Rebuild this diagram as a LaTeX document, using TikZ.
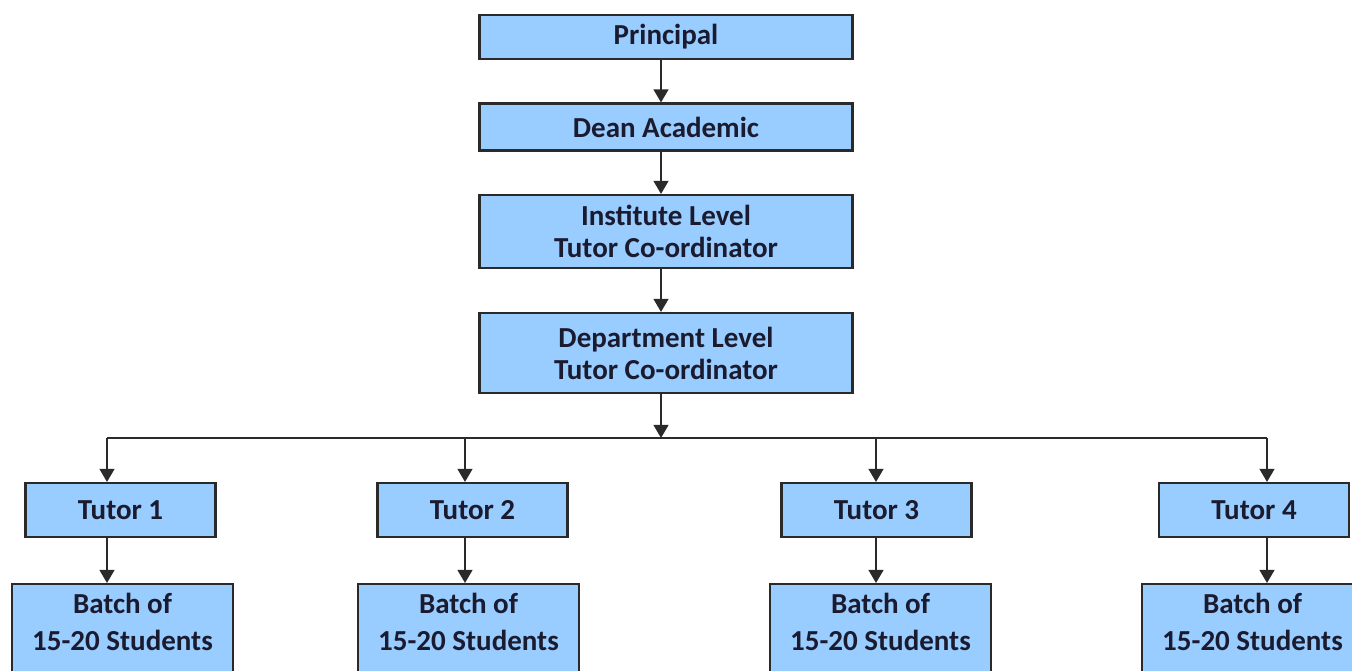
\documentclass[tikz,border=0pt]{standalone}
\usepackage{fontspec}
\setmainfont{Carlito}
\usetikzlibrary{arrows.meta}

\definecolor{boxblue}{HTML}{99CCFF}
\definecolor{boxline}{HTML}{2A2A2A}
\definecolor{boxtext}{HTML}{1B1B30}

\tikzset{
  box/.style={draw=boxline, line width=1.2pt, fill=boxblue, text=boxtext,
    font=\fontsize{16.5}{18.2}\selectfont\bfseries, align=center, inner sep=0pt},
  topbox/.style={box, minimum width=7.46cm},
  tutorbox/.style={box, minimum width=3.8cm, minimum height=1.08cm},
  batchbox/.style={box, anchor=north, minimum width=4.42cm,
    font=\fontsize{16.5}{21}\selectfont\bfseries, text height=38pt, text depth=60pt},
  arr/.style={draw=boxline, line width=1.1pt, -{Triangle[length=7.5pt,width=8.5pt]}},
}

\begin{document}
\begin{tikzpicture}[x=0.02cm,y=-0.02cm]
  \useasboundingbox (0,0) rectangle (1352,670);
  \clip (0,0) rectangle (1352,670);

  % chain of co-ordinators
  \node[topbox, minimum height=0.88cm] (principal) at (666,37) {Principal};
  \node[topbox, minimum height=0.94cm] (dean) at (666,127) {Dean Academic};
  \node[topbox, minimum height=1.46cm] (inst) at (666,231.5) {Institute Level\\Tutor Co-ordinator};
  \node[topbox, minimum height=1.6cm] (dept) at (666,353) {Department Level\\Tutor Co-ordinator};

  % tutors
  \node[tutorbox] (t1) at (120.5,510) {Tutor 1};
  \node[tutorbox] (t2) at (472.5,510) {Tutor 2};
  \node[tutorbox] (t3) at (876.5,510) {Tutor 3};
  \node[tutorbox] (t4) at (1254,510) {Tutor 4};

  % batches
  \node[batchbox] (b1) at (122.5,583) {Batch of\\15-20 Students};
  \node[batchbox] (b2) at (468.5,583) {Batch of\\15-20 Students};
  \node[batchbox] (b3) at (880.5,583) {Batch of\\15-20 Students};
  \node[batchbox] (b4) at (1252.5,583) {Batch of\\15-20 Students};

  % bus
  \coordinate (spine) at (661,438);
  \coordinate (d1) at (107,438);
  \coordinate (d2) at (465,438);
  \coordinate (d3) at (876,438);
  \coordinate (d4) at (1267,438);

  \draw[arr] (principal.south -| spine) -- (dean.north -| spine);
  \draw[arr] (dean.south -| spine) -- (inst.north -| spine);
  \draw[arr] (inst.south -| spine) -- (dept.north -| spine);
  \draw[arr] (dept.south -| spine) -- (spine);
  \draw[draw=boxline, line width=1.1pt] (d1) -- (d4);

  \foreach \i in {1,...,4} {
    \draw[arr] (d\i) -- (d\i |- t\i.north);
    \draw[arr] (d\i |- t\i.south) -- (d\i |- b\i.north);
  }
\end{tikzpicture}
\end{document}
